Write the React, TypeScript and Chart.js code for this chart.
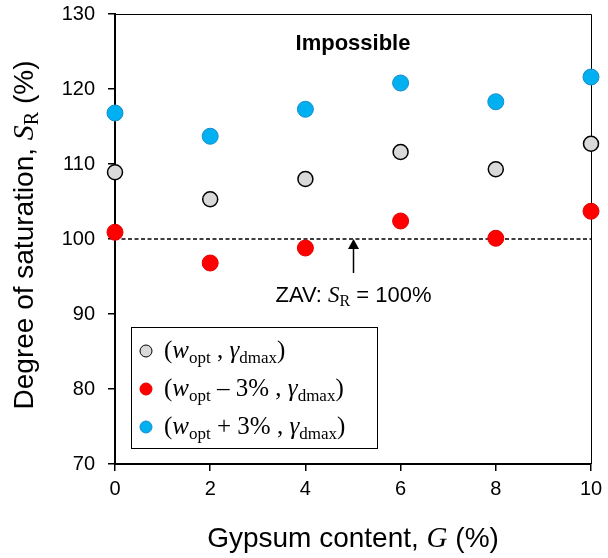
import React, { useEffect, useRef } from "react";
import { Chart, registerables } from "chart.js";

Chart.register(...registerables);

// ---- data ----
const gypsumContent = [0, 2, 4, 6, 8, 10];
const srOptimum = [108.9, 105.3, 108.0, 111.6, 109.3, 112.7];
const srDrySide = [100.9, 96.8, 98.8, 102.4, 100.1, 103.7];
const srWetSide = [116.8, 113.7, 117.3, 120.8, 118.3, 121.6];
const zavX = [0, 10];
const zavY = [100, 100];
const zavArrowX = 5;
const xRange = [0, 10];
const yRange = [70, 130];
const xStep = 2;
const yStep = 10;

const SANS = "Arial, 'Liberation Sans', sans-serif";
const SERIF = "'Times New Roman', 'Liberation Serif', serif";

type Part = { t: string; font: string; dy?: number };

function drawRich(ctx: CanvasRenderingContext2D, parts: Part[], x: number, y: number, align: "left" | "center") {
  let w = 0;
  for (const p of parts) {
    ctx.font = p.font;
    w += ctx.measureText(p.t).width;
  }
  let cx = align === "center" ? x - w / 2 : x;
  ctx.textAlign = "left";
  ctx.textBaseline = "alphabetic";
  for (const p of parts) {
    ctx.font = p.font;
    ctx.fillText(p.t, cx, y + (p.dy || 0));
    cx += ctx.measureText(p.t).width;
  }
}

const legendEntries = [
  { fill: "#d9d9d9", stroke: "#000000", mid: " , " },
  { fill: "#ff0000", stroke: "#e00000", mid: " \u2013 3% , " },
  { fill: "#00b0f0", stroke: "#1a8ccc", mid: " + 3% , " },
];

const decorPlugin = {
  id: "decor",
  beforeDatasetsDraw(chart: any) {
    const { ctx, chartArea } = chart;
    ctx.save();
    ctx.strokeStyle = "#000";
    ctx.lineWidth = 1;
    ctx.beginPath();
    ctx.moveTo(chartArea.left, Math.round(chartArea.top) + 0.5);
    ctx.lineTo(Math.round(chartArea.right) + 0.5, Math.round(chartArea.top) + 0.5);
    ctx.lineTo(Math.round(chartArea.right) + 0.5, chartArea.bottom);
    ctx.stroke();
    ctx.restore();
  },
  afterDraw(chart: any) {
    const { ctx, chartArea, scales } = chart;
    const xs = scales.x;
    const ys = scales.y;
    ctx.save();
    ctx.fillStyle = "#000";

    // Impossible
    ctx.font = `bold 22px ${SANS}`;
    ctx.textAlign = "center";
    ctx.textBaseline = "alphabetic";
    ctx.fillText("Impossible", (chartArea.left + chartArea.right) / 2, 50);

    // arrow
    const ax = Math.round(xs.getPixelForValue(zavArrowX)) + 0.5;
    const ay = ys.getPixelForValue(zavY[0]);
    ctx.strokeStyle = "#000";
    ctx.lineWidth = 1.5;
    ctx.beginPath();
    ctx.moveTo(ax, ay + 8);
    ctx.lineTo(ax, ay + 34);
    ctx.stroke();
    ctx.beginPath();
    ctx.moveTo(ax, ay);
    ctx.lineTo(ax - 5.5, ay + 10);
    ctx.lineTo(ax + 5.5, ay + 10);
    ctx.closePath();
    ctx.fill();

    // ZAV label
    drawRich(
      ctx,
      [
        { t: "ZAV: ", font: `22px ${SANS}` },
        { t: "S", font: `italic 23px ${SERIF}` },
        { t: "R", font: `16px ${SERIF}`, dy: 4 },
        { t: " = 100%", font: `22px ${SANS}` },
      ],
      ax,
      ay + 63,
      "center"
    );

    // Legend
    const lx = 131, ly = 327, lw = 246, lh = 121;
    ctx.fillStyle = "#fff";
    ctx.fillRect(lx, ly, lw, lh);
    ctx.strokeStyle = "#000";
    ctx.lineWidth = 1;
    ctx.strokeRect(lx + 0.5, ly + 0.5, lw, lh);
    legendEntries.forEach((e, i) => {
      const cy = 351 + i * 38;
      ctx.beginPath();
      ctx.arc(146, cy, 6, 0, Math.PI * 2);
      ctx.fillStyle = e.fill;
      ctx.fill();
      ctx.strokeStyle = e.stroke;
      ctx.lineWidth = 1;
      ctx.stroke();
      ctx.fillStyle = "#000";
      drawRich(
        ctx,
        [
          { t: "(", font: `25px ${SERIF}` },
          { t: "w", font: `italic 25px ${SERIF}` },
          { t: "opt", font: `17px ${SERIF}`, dy: 5 },
          { t: e.mid, font: `25px ${SERIF}` },
          { t: "\u03b3", font: `italic 25px ${SERIF}` },
          { t: "dmax", font: `17px ${SERIF}`, dy: 5 },
          { t: ")", font: `25px ${SERIF}` },
        ],
        164,
        cy + 7,
        "left"
      );
    });

    // axis titles
    ctx.fillStyle = "#000";
    drawRich(
      ctx,
      [
        { t: "Gypsum content, ", font: `28px ${SANS}` },
        { t: "G", font: `italic 29px ${SERIF}` },
        { t: " (%)", font: `28px ${SANS}` },
      ],
      (chartArea.left + chartArea.right) / 2,
      547,
      "center"
    );

    ctx.save();
    ctx.translate(33, 235);
    ctx.rotate(-Math.PI / 2);
    drawRich(
      ctx,
      [
        { t: "Degree of saturation, ", font: `28px ${SANS}` },
        { t: "S", font: `italic 30px ${SERIF}` },
        { t: "R", font: `20px ${SERIF}`, dy: 5 },
        { t: " (%)", font: `28px ${SANS}` },
      ],
      0,
      0,
      "center"
    );
    ctx.restore();

    ctx.restore();
  },
};

export default function App() {
  const ref = useRef<HTMLCanvasElement | null>(null);
  useEffect(() => {
    if (!ref.current) return;
    const pts = (ys: number[]) => gypsumContent.map((x, i) => ({ x, y: ys[i] }));
    const chart = new Chart(ref.current, {
      type: "scatter",
      data: {
        datasets: [
          {
            label: "opt",
            data: pts(srOptimum),
            backgroundColor: "#d9d9d9",
            borderColor: "#000000",
            borderWidth: 1.5,
            pointRadius: 7.5,
            clip: false as any,
          },
          {
            label: "dry",
            data: pts(srDrySide),
            backgroundColor: "#ff0000",
            borderColor: "#e60000",
            borderWidth: 1,
            pointRadius: 8,
            clip: false as any,
          },
          {
            label: "wet",
            data: pts(srWetSide),
            backgroundColor: "#00b0f0",
            borderColor: "#1a8ccc",
            borderWidth: 1,
            pointRadius: 8,
            clip: false as any,
          },
          {
            type: "line" as any,
            label: "ZAV",
            data: zavX.map((x, i) => ({ x, y: zavY[i] })),
            borderColor: "#000",
            borderWidth: 1.5,
            borderDash: [4, 2.5],
            pointRadius: 0,
            showLine: true,
            fill: false,
          } as any,
        ],
      },
      options: {
        animation: false,
        responsive: false,
        layout: { padding: { top: 14, right: 17, left: 0, bottom: 0 } },
        plugins: { legend: { display: false }, tooltip: { enabled: false } },
        scales: {
          x: {
            type: "linear",
            min: xRange[0],
            max: xRange[1],
            ticks: { stepSize: xStep, color: "#000", font: { family: SANS, size: 20 }, padding: 6 },
            grid: { drawOnChartArea: false, drawTicks: true, tickLength: 7, color: "#000", lineWidth: 1.5 },
            border: { display: true, color: "#000", width: 2 },
            afterFit: (s: any) => { s.height = 94; s.paddingLeft = 0; s.paddingRight = 0; },
          },
          y: {
            type: "linear",
            min: yRange[0],
            max: yRange[1],
            ticks: { stepSize: yStep, color: "#000", font: { family: SANS, size: 20 }, padding: 13 },
            grid: { drawOnChartArea: false, drawTicks: true, tickLength: 7, color: "#000", lineWidth: 1.5 },
            border: { display: true, color: "#000", width: 2 },
            afterFit: (s: any) => { s.width = 115; s.paddingTop = 0; s.paddingBottom = 0; },
          },
        },
      },
      plugins: [decorPlugin],
    });
    return () => chart.destroy();
  }, []);
  return (
    <div style={{ position: "absolute", left: 0, top: 0, width: 608, height: 558, background: "#fff" }}>
      <canvas ref={ref} width={608} height={558} style={{ display: "block" }} />
    </div>
  );
}
